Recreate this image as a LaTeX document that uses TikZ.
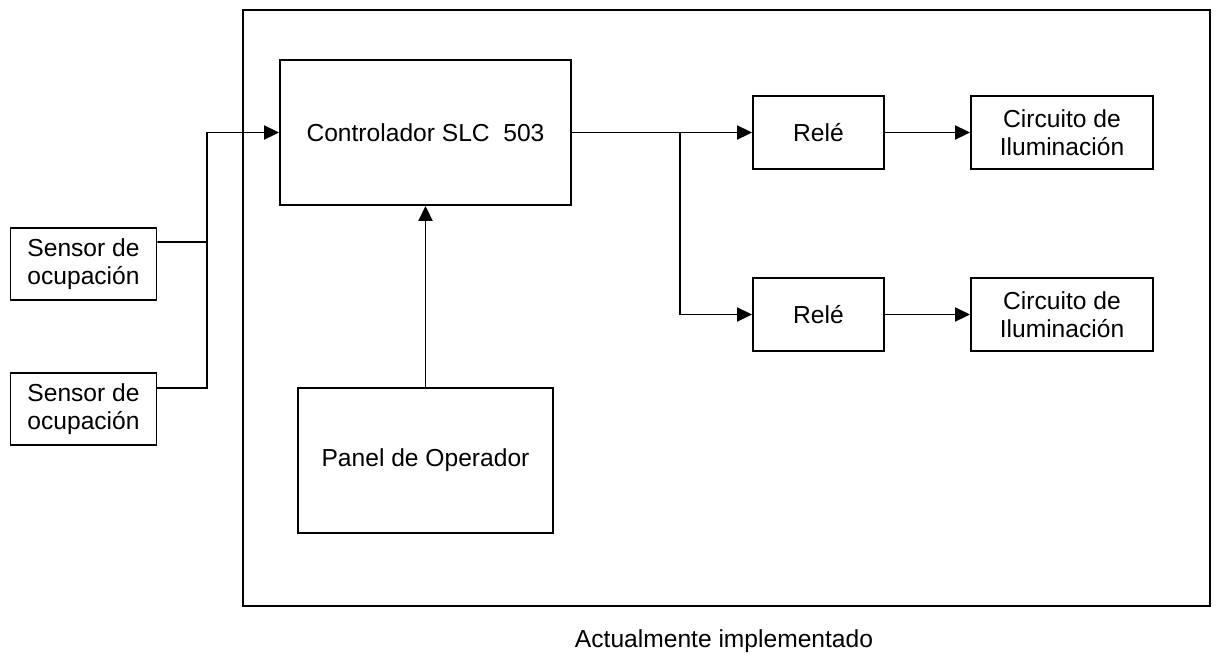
\documentclass[tikz,border=0pt]{standalone}
\usepackage{fontspec}
\setmainfont{Liberation Sans}
\usetikzlibrary{arrows.meta,calc}
\tikzset{
>={Triangle[length=0.3cm,width=0.28cm]},
bloque/.style={draw,rectangle,line width=1.1pt,align=center,inner sep=0pt},
flecha/.style={->,line width=1.1pt},
linea/.style={line width=1.1pt}}

\begin{document}
\begin{tikzpicture}[x=0.02cm,y=-0.02cm,font=\fontsize{14pt}{16pt}\selectfont]
\useasboundingbox (0,0) rectangle (1216,656);

\node[bloque,minimum width=19.34cm,minimum height=11.92cm] (marco) at (726.5,308) {};
\node[bloque,minimum width=5.82cm,minimum height=2.9cm] (ctrl) at (425.5,132.5) {Controlador SLC\ \ 503};
\node[bloque,minimum width=5.1cm,minimum height=2.9cm] (panel) at (425.5,460.5) {Panel de Operador};
\node[bloque,minimum width=2.92cm,minimum height=1.44cm] (sens1) at (83.5,264) {Sensor de\\ocupación};
\node[bloque,minimum width=2.92cm,minimum height=1.44cm] (sens2) at (83.5,409) {Sensor de\\ocupación};
\node[bloque,minimum width=2.62cm,minimum height=1.46cm] (rele1) at (818.5,132.5) {Relé};
\node[bloque,minimum width=2.62cm,minimum height=1.46cm] (rele2) at (818.5,314.5) {Relé};
\node[bloque,minimum width=3.64cm,minimum height=1.46cm] (circ1) at (1062,132.5) {Circuito de\\Iluminación};
\node[bloque,minimum width=3.64cm,minimum height=1.46cm] (circ2) at (1062,314.5) {Circuito de\\Iluminación};
\node (pie) at (724,641) {Actualmente implementado};

\coordinate (nudo) at (206.6,242);
\coordinate (rama) at (680,132.5);

\draw[linea] ([yshift=0.44cm]sens1.east) -- (nudo);
\draw[flecha] ([yshift=0.42cm]sens2.east) -| (nudo |- ctrl.west) -- (ctrl.west);
\path[flecha] (panel) edge (ctrl);
\path[flecha] (ctrl) edge (rele1);
\draw[flecha] (rama) |- (rele2.west);
\path[flecha] (rele1) edge (circ1);
\path[flecha] (rele2) edge (circ2);

\end{tikzpicture}
\end{document}
